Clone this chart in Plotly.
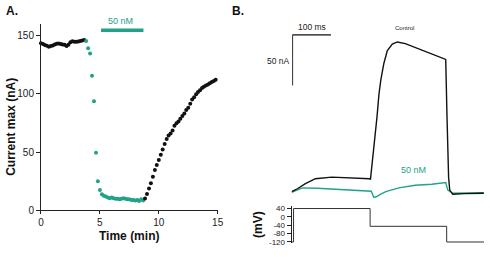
import plotly.graph_objects as go

# ---------------- Panel A data (time in min, current max in nA) ----------------
baseline_t = [0.0, 0.17, 0.33, 0.5, 0.67, 0.83, 1.0, 1.17, 1.33, 1.5, 1.67, 1.83,
              2.0, 2.17, 2.33, 2.5, 2.67, 2.83, 3.0, 3.17, 3.33, 3.5, 3.67]
baseline_v = [143.3, 142.7, 141.8, 141.0, 140.2, 140.8, 141.4, 142.2, 142.8, 143.0, 142.6, 142.2,
              141.9, 140.9, 142.0, 144.0, 145.0, 144.6, 144.5, 144.7, 145.2, 145.6, 146.1]

drug_t = [3.83, 4.0, 4.17, 4.33, 4.5, 4.67, 4.83, 5.0, 5.17, 5.33, 5.5, 5.67, 5.83, 6.0, 6.17,
          6.33, 6.5, 6.67, 6.83, 7.0, 7.17, 7.33, 7.5, 7.67, 7.83, 8.0, 8.17, 8.33, 8.5, 8.67]
drug_v = [145.2, 139.0, 134.4, 115.5, 93.6, 49.4, 25.0, 17.5, 13.8, 12.5, 12.0, 11.0, 10.5, 11.0, 10.5,
          10.0, 10.0, 9.5, 10.0, 10.5, 10.0, 9.5, 9.5, 9.0, 9.0, 8.5, 9.0, 8.0, 9.5, 8.5]

wash_t = [8.83, 9.0, 9.17, 9.33, 9.5, 9.67, 9.83, 10.0, 10.17, 10.33, 10.5, 10.67, 10.83, 11.0,
          11.17, 11.33, 11.5, 11.67, 11.83, 12.0, 12.17, 12.33, 12.5, 12.67, 12.83, 13.0, 13.17,
          13.33, 13.5, 13.67, 13.83, 14.0, 14.17, 14.33, 14.5, 14.67, 14.83]
wash_v = [10.2, 14.0, 18.8, 23.3, 28.9, 34.7, 39.0, 43.3, 47.8, 52.2, 57.0, 61.3, 64.2, 66.0,
          68.6, 72.5, 74.7, 76.3, 78.5, 81.0, 83.0, 86.0, 88.0, 91.5, 95.0, 97.0, 99.5,
          101.5, 103.0, 105.0, 106.0, 107.0, 108.0, 109.0, 110.0, 111.0, 112.0]

drug_bar_t = [5.1, 8.7]
drug_bar_v = [154.4, 154.4]

# ---------------- Panel B data (time in ms, current in nA, voltage in mV) ----------------
control_t = [-5, 10, 31, 57, 100, 151, 198, 201, 210, 218, 223, 228, 236, 245, 258, 271,
             292, 318, 344, 369, 395, 397.5, 401, 405, 408, 416, 446, 497]
control_i = [0.0, 2.9, 8.0, 12.8, 14.4, 13.9, 12.8, 12.5, 43.3, 74.0, 96.0, 110.6, 127.0, 139.4,
             145.9, 148.0, 146.4, 142.6, 138.8, 134.6, 131.4, 130.8, 72.0, 14.4, 1.6, -2.6, -1.9, -1.6]

drug50_t = [-5, 23, 62, 113, 164, 198, 203, 209.5, 215, 228, 241, 275, 318, 361, 395, 397.5,
            403, 416, 497]
drug50_i = [-0.7, 3.8, 3.4, 2.4, 1.4, 0.7, 0.5, -5.5, -5.3, -2.4, 0.0, 3.8, 6.4, 7.4, 8.7, 9.1,
            1.6, -1.6, -1.0]

scale_t = [-2.5, 97.5, -2.5, -2.5]
scale_i = [155, 155, 155, 105]

protocol_t = [-5, 0, 200, 400, 497.5]
protocol_v = [-120, 40, -45, -120, -120]
volt_ticks = [40, 0, -40, -80, -120]
volt_labels = ["40", "0", "-40", "-80", "-120"]

TEAL = "#22a287"
INK = "#111111"
SANS = "Liberation Sans, Arial, sans-serif"

W, H = 490, 257


def px(x):
    return x / W


def py(y):
    return 1 - y / H


fig = go.Figure()

# Panel A
fig.add_trace(go.Scatter(x=baseline_t, y=baseline_v, mode="markers",
                         marker=dict(color=INK, size=4), cliponaxis=False,
                         xaxis="x", yaxis="y", showlegend=False))
fig.add_trace(go.Scatter(x=drug_t, y=drug_v, mode="markers",
                         marker=dict(color=TEAL, size=4), cliponaxis=False,
                         xaxis="x", yaxis="y", showlegend=False))
fig.add_trace(go.Scatter(x=wash_t, y=wash_v, mode="markers",
                         marker=dict(color=INK, size=4), cliponaxis=False,
                         xaxis="x", yaxis="y", showlegend=False))
fig.add_trace(go.Scatter(x=drug_bar_t, y=drug_bar_v, mode="lines",
                         line=dict(color=TEAL, width=3.5), cliponaxis=False,
                         xaxis="x", yaxis="y", showlegend=False))

# Panel B currents
fig.add_trace(go.Scatter(x=drug50_t, y=drug50_i, mode="lines",
                         line=dict(color=TEAL, width=1.4), cliponaxis=False,
                         xaxis="x2", yaxis="y2", showlegend=False))
fig.add_trace(go.Scatter(x=control_t, y=control_i, mode="lines",
                         line=dict(color=INK, width=1.4), cliponaxis=False,
                         xaxis="x2", yaxis="y2", showlegend=False))
fig.add_trace(go.Scatter(x=scale_t, y=scale_i, mode="lines",
                         line=dict(color="#333333", width=1), cliponaxis=False,
                         xaxis="x2", yaxis="y2", showlegend=False))

# Panel B voltage protocol
fig.add_trace(go.Scatter(x=protocol_t, y=protocol_v, mode="lines", line_shape="hv",
                         line=dict(color="#333333", width=1), cliponaxis=False,
                         xaxis="x3", yaxis="y3", showlegend=False))

axis_common = dict(showgrid=False, zeroline=False, showline=True, linecolor="#222222",
                   linewidth=1, ticks="outside", tickcolor="#222222",
                   tickfont=dict(family=SANS, size=10, color="#222222"))

fig.update_layout(
    width=W, height=H, margin=dict(l=0, r=0, t=0, b=0),
    paper_bgcolor="white", plot_bgcolor="white",
    xaxis=dict(domain=[px(38.7), px(218.7)], range=[0, 15], tickvals=[0, 5, 10, 15],
               ticklen=3, anchor="y", **axis_common),
    yaxis=dict(domain=[py(214.3), py(22.3)], range=[0, 160], tickvals=[0, 50, 100, 150],
               ticklen=4, anchor="x", **axis_common),
    xaxis2=dict(domain=[px(294), 1], range=[-5.1, 497.5], visible=False, anchor="y2"),
    yaxis2=dict(domain=[py(205), py(20)], range=[-9.615, 168.27], visible=False, anchor="x2"),
    xaxis3=dict(domain=[px(294), 1], range=[-5.1, 497.5], visible=False, anchor="y3"),
    yaxis3=dict(domain=[py(248), py(210)], range=[-126, 50.7], tickvals=volt_ticks,
                ticktext=volt_labels, ticklen=4, anchor="x3", showgrid=False, zeroline=False,
                showline=True, linecolor="#222222", linewidth=1, ticks="outside",
                tickcolor="#222222", tickfont=dict(family=SANS, size=8, color="#222222")),
)

ann = [
    dict(text="<b>A.</b>", x=px(9), y=py(9), font=dict(family=SANS, size=12, color=INK)),
    dict(text="<b>B.</b>", x=px(239), y=py(9), font=dict(family=SANS, size=12, color=INK)),
    dict(text="<b>Time (min)</b>", x=px(128.7), y=py(241), font=dict(family=SANS, size=12, color=INK)),
    dict(text="<b>Current max (nA)</b>", x=px(8), y=py(128.5), textangle=-90,
         font=dict(family=SANS, size=12, color=INK)),
    dict(text="50 nM", x=px(120), y=py(20), font=dict(family=SANS, size=9, color=TEAL)),
    dict(text="100 ms", x=px(315), y=py(26), font=dict(family=SANS, size=8.5, color="#222222")),
    dict(text="50 nA", x=px(280.5), y=py(61), font=dict(family=SANS, size=8.5, color="#222222")),
    dict(text="Control", x=px(409), y=py(27), font=dict(family=SANS, size=6, color="#222222")),
    dict(text="50 nM", x=px(418.5), y=py(173), font=dict(family=SANS, size=9, color=TEAL)),
    dict(text="<b>(mV)</b>", x=px(260), y=py(229), textangle=-90,
         font=dict(family=SANS, size=12, color=INK)),
]
for a in ann:
    a.update(xref="paper", yref="paper", xanchor="center", yanchor="middle",
             showarrow=False)
fig.update_layout(annotations=ann)

fig.write_html("out.html")
